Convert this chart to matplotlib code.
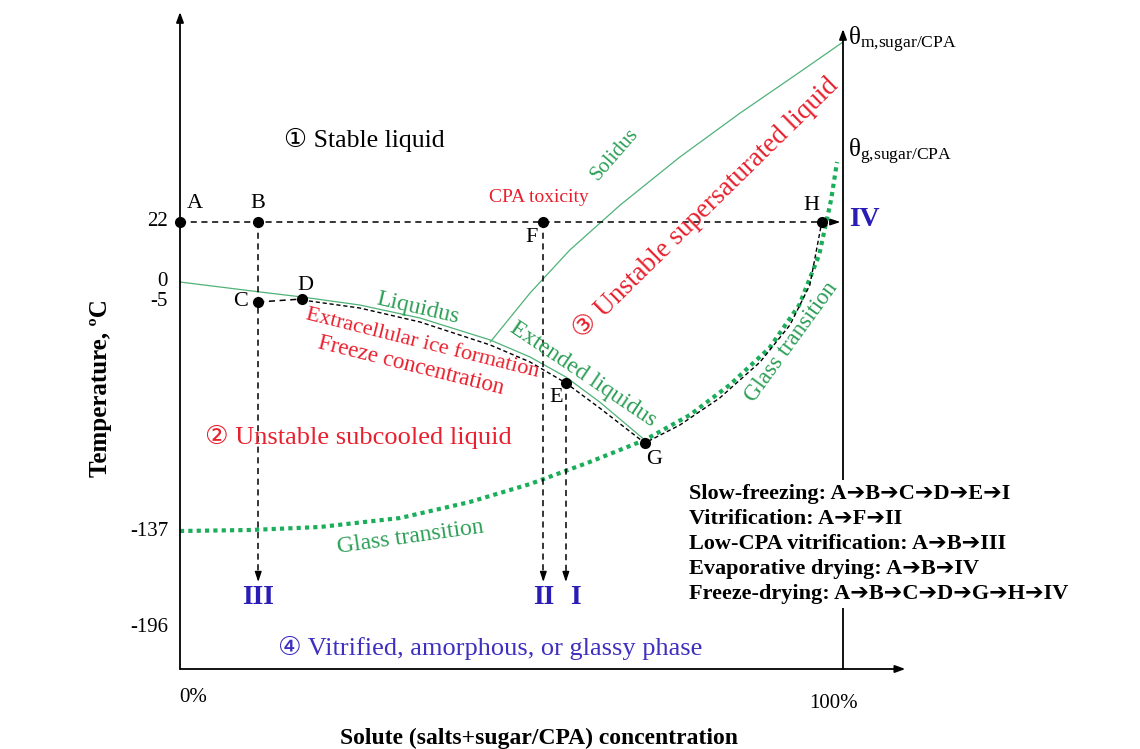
import matplotlib.pyplot as plt

# schematic coordinates: x = solute concentration (0..100 %), y = schematic height above the x axis
plt.rcParams['font.family'] = ['Liberation Serif', 'DejaVu Sans', 'Noto Sans CJK JP']
plt.rcParams['mathtext.fontset'] = 'custom'
plt.rcParams['mathtext.rm'] = 'Liberation Serif'
plt.rcParams['mathtext.it'] = 'Liberation Serif'

RED = '#e8202e'
GREEN = '#2b9e55'
GLASS = '#1aae5a'
BLUE = '#2a1db5'

# key points
point_names = ['A', 'B', 'F', 'H', 'C', 'D', 'E', 'G']
point_x = [0, 11.8, 54.8, 96.8, 11.8, 18.4, 58.2, 70.1]
point_y = [447, 447, 447, 447, 367, 370, 286, 226]

# temperature ticks
tick_y = [447, 387, 367, 138, 42]
tick_labels = ['22', '0', '-5', '-137', '-196']

liquidus_x = [0, 12.1, 18.4, 27.1, 36.2, 46.8, 52.8, 58.2, 63.3, 70.1]
liquidus_y = [387, 377, 372, 364, 351, 329, 312, 292, 267, 229]

solidus_x = [46.8, 52.8, 58.8, 66.4, 75.4, 84.5, 93.5, 100]
solidus_y = [327, 376, 419, 464, 512, 556, 597, 627]

glass_x = [0, 10.6, 21.1, 33.2, 43.7, 52.8, 61.8, 70.1, 76.9, 82.9, 88.9, 93.4, 96.4, 98.2, 99.1]
glass_y = [138, 139, 142, 151, 167, 185, 207, 229, 254, 284, 321, 364, 414, 469, 507]

# freeze-drying / slow freezing path D -> E -> G -> H
path_x = [18.4, 27.1, 36.2, 46.8, 52.8, 58.2, 63.3, 70.1, 75.4, 81.4, 87.5, 92.0, 95.0, 96.8]
path_y = [369, 361, 347, 324, 307, 286, 261, 226, 244, 271, 307, 344, 384, 447]

end_y = 87          # arrow tips of vertical paths
roman_y = 72
roman_labels = ['III', 'II', 'I']
roman_x = [11.8, 54.8, 59.6]

routes = ['Slow-freezing: A➔B➔C➔D➔E➔I',
          'Vitrification: A➔F➔II',
          'Low-CPA vitrification: A➔B➔III',
          'Evaporative drying: A➔B➔IV',
          'Freeze-drying: A➔B➔C➔D➔G➔H➔IV']

fig = plt.figure(figsize=(11.4, 7.49), dpi=100)
ax = fig.add_axes([0, 0, 1, 1])
ax.set_xlim(-180 / 6.63, 960 / 6.63)
ax.set_ylim(-80, 669)
ax.axis('off')

# axes with arrows
ap = dict(arrowstyle='-|>,head_length=0.6,head_width=0.22', color='k', lw=1.3, shrinkA=0, shrinkB=0)
ax.annotate('', xy=(0, 657), xytext=(0, 0), arrowprops=ap)
ax.annotate('', xy=(109.4, 0), xytext=(0, 0), arrowprops=ap)
ax.annotate('', xy=(100, 640), xytext=(100, 0), arrowprops=ap)

for y, lab in zip(tick_y, tick_labels):
    ax.text(-1.8, y, lab, ha='right', va='center', fontsize=15)
ax.text(2, -28, '0%', ha='center', va='center', fontsize=15)
ax.text(98.5, -35, '100%', ha='center', va='center', fontsize=15)
ax.text(54.2, -69, 'Solute (salts+sugar/CPA) concentration', ha='center', va='center',
        fontsize=17, fontweight='bold')
ax.text(-12, 281, 'Temperature, ºC', ha='center', va='center', rotation=90,
        fontsize=18, fontweight='bold')

# curves
ax.plot(liquidus_x, liquidus_y, color='#4fb277', lw=0.9)
ax.plot(solidus_x, solidus_y, color='#4fb277', lw=0.9)
ax.plot(glass_x, glass_y, color=GLASS, lw=3.0, ls=(0, (1, 1)))
ax.plot(path_x, path_y, color='k', lw=1.0, ls=(0, (3, 2)))

# dashed routes
dash = dict(color='k', lw=1.1, ls=(0, (4, 3)))
ax.plot([point_x[0], 99.3], [447, 447], **dash)
ax.plot([point_x[4], point_x[5]], [point_y[4], point_y[5]], **dash)
head = dict(arrowstyle='-|>,head_length=0.6,head_width=0.2', color='k', lw=1, shrinkA=0, shrinkB=0)
ax.annotate('', xy=(99.6, 447), xytext=(98.5, 447), arrowprops=head)
for x0, y0 in [(point_x[1], point_y[1]), (point_x[2], point_y[2]), (point_x[6], point_y[6])]:
    ax.plot([x0, x0], [y0, end_y + 5], **dash)
    ax.annotate('', xy=(x0, end_y), xytext=(x0, end_y + 8), arrowprops=head)

ax.plot(point_x, point_y, 'o', color='k', ms=7, zorder=5)

# point letters
label_dx = [2.3, 0, -1.8, -1.6, -2.7, 0.5, -1.5, 1.4]
label_dy = [19, 19, -16, 17, 0, 14, -15, -16]
for n, x, y, dx, dy in zip(point_names, point_x, point_y, label_dx, label_dy):
    ax.text(x + dx, y + dy, n, ha='center', va='center', fontsize=16)

for lab, x in zip(roman_labels, roman_x):
    ax.text(x, roman_y, lab, ha='center', va='center', fontsize=20, color=BLUE, fontweight='bold')
ax.text(103.3, 449, 'IV', ha='center', va='center', fontsize=20, color=BLUE, fontweight='bold')

ax.text(100.8, 629, r'$\mathrm{θ}_{\mathrm{m{,}sugar/CPA}}$', ha='left', va='center', fontsize=18)
ax.text(100.8, 517, r'$\mathrm{θ}_{\mathrm{g{,}sugar/CPA}}$', ha='left', va='center', fontsize=18)

# region labels
ax.text(15.7, 529, '① Stable liquid', ha='left', va='center', fontsize=18.5)
ax.text(3.8, 232, '② Unstable subcooled liquid', ha='left', va='center', fontsize=19, color=RED)
ax.text(79.3, 461, '③ Unstable supersaturated liquid', ha='center', va='center', fontsize=19.5,
        color=RED, rotation=44.5)
ax.text(14.8, 21, '④ Vitrified, amorphous, or glassy phase', ha='left', va='center', fontsize=19,
        color='#3d2fbf')
ax.text(54.2, 472, 'CPA toxicity', ha='center', va='center', fontsize=14, color=RED)

ax.text(35.8, 361, 'Liquidus', ha='center', va='center', fontsize=17, color=GREEN, rotation=-13)
ax.text(65.6, 515, 'Solidus', ha='center', va='center', fontsize=15, color=GREEN, rotation=49)
ax.text(60.8, 295, 'Extended liquidus', ha='center', va='center', fontsize=17, color=GREEN, rotation=-34)
ax.text(92.3, 327, 'Glass transition', ha='center', va='center', fontsize=16.5, color=GREEN, rotation=54)
ax.text(34.7, 132, 'Glass transition', ha='center', va='center', fontsize=17, color=GREEN, rotation=8)
ax.text(36.5, 325, 'Extracellular ice formation', ha='center', va='center', fontsize=16,
        color=RED, rotation=-14)
ax.text(34.8, 303, 'Freeze concentration', ha='center', va='center', fontsize=16.5,
        color=RED, rotation=-14)

# route legend with white background over the right axis line
ax.text(76.8, 125, '\n'.join(routes), ha='left', va='center', fontsize=16, fontweight='bold',
        linespacing=1.33, bbox=dict(facecolor='white', edgecolor='none', pad=3))

fig.savefig('out.png', dpi=100)
